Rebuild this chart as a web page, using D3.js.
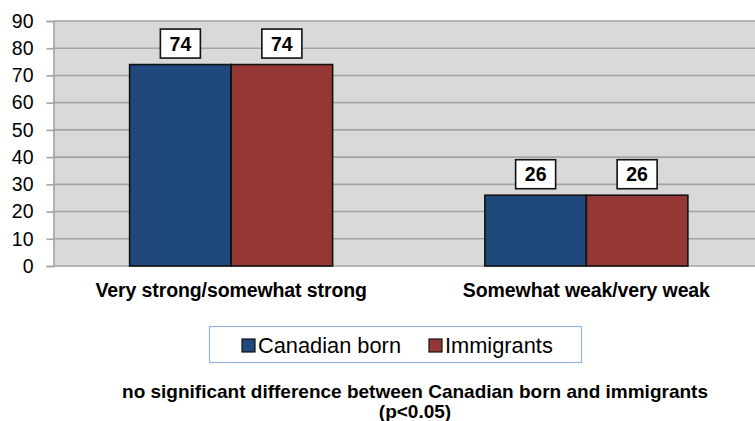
<!DOCTYPE html>
<html>
<head>
<meta charset="utf-8">
<script src="https://cdn.jsdelivr.net/npm/d3@7"></script>
<style>
  body { margin: 0; background: #fff; }
  svg text { font-family: "Liberation Sans", Arial, sans-serif; fill: #000; }
</style>
</head>
<body>
<div class="container"></div>
<script>
var categories = ['Very strong/somewhat strong', 'Somewhat weak/very weak'];
var seriesNames = ['Canadian born', 'Immigrants'];
var canadianBorn = [74, 26];
var immigrants = [74, 26];
var yTicks = [0, 10, 20, 30, 40, 50, 60, 70, 80, 90];
var footnote = ['no significant difference between Canadian born and immigrants', '(p<0.05)'];

const WIDTH = 755;
const HEIGHT = 421;
const colors = ['#1f487c', '#953735'];

var svg = d3.select('.container').append('svg')
  .attr('width', WIDTH)
  .attr('height', HEIGHT);

var plotLeft = 53.5, plotRight = 764, plotTop = 21, plotBottom = 266;

var x = d3.scaleBand()
  .domain(categories)
  .range([plotLeft, plotRight])
  .paddingInner(0.4286)
  .paddingOuter(0.2143);

var xInner = d3.scaleBand()
  .domain(seriesNames)
  .range([0, x.bandwidth()]);

var y = d3.scaleLinear()
  .domain([0, 90])
  .range([plotBottom, plotTop]);

// plot background
svg.append('rect')
  .attr('x', plotLeft)
  .attr('y', plotTop)
  .attr('width', plotRight - plotLeft)
  .attr('height', plotBottom - plotTop)
  .attr('fill', '#d9d9d9');

// gridlines
svg.append('g')
  .selectAll('line')
  .data(yTicks)
  .enter().append('line')
  .attr('x1', plotLeft)
  .attr('x2', plotRight)
  .attr('y1', function(d){ return y(d); })
  .attr('y2', function(d){ return y(d); })
  .attr('stroke', '#a3a3a3')
  .attr('stroke-width', 1.6);

// y axis
var yAxis = d3.axisLeft(y).tickValues(yTicks).tickSize(7).tickPadding(13);
var yg = svg.append('g')
  .attr('transform', 'translate(' + plotLeft + ',0)')
  .call(yAxis);
yg.select('.domain').attr('stroke', '#a3a3a3').attr('stroke-width', 1.6);
yg.selectAll('.tick line').attr('stroke', '#a3a3a3').attr('stroke-width', 1.6);
yg.selectAll('.tick text')
  .attr('font-size', 19.5)
  .attr('font-family', '"Liberation Sans", Arial, sans-serif')
  .attr('fill', '#000');

// bars
var rows = categories.map(function(c, i) {
  return { cat: c, values: [canadianBorn[i], immigrants[i]] };
});

var groups = svg.append('g')
  .selectAll('g')
  .data(rows)
  .enter().append('g')
  .attr('transform', function(d){ return 'translate(' + x(d.cat) + ',0)'; });

groups.selectAll('rect')
  .data(function(d){ return d.values.map(function(v, j){ return { name: seriesNames[j], value: v, idx: j }; }); })
  .enter().append('rect')
  .attr('x', function(d){ return xInner(d.name); })
  .attr('y', function(d){ return y(d.value); })
  .attr('width', xInner.bandwidth())
  .attr('height', function(d){ return y(0) - y(d.value); })
  .attr('fill', function(d){ return colors[d.idx]; })
  .attr('stroke', '#111')
  .attr('stroke-width', 1.6);

// data labels in boxes
var labels = groups.selectAll('g.lbl')
  .data(function(d){ return d.values.map(function(v, j){ return { name: seriesNames[j], value: v }; }); })
  .enter().append('g')
  .attr('class', 'lbl')
  .attr('transform', function(d){
    return 'translate(' + (xInner(d.name) + xInner.bandwidth() / 2) + ',' + (y(d.value) - 21) + ')';
  });

labels.append('rect')
  .attr('x', -20)
  .attr('y', -14.5)
  .attr('width', 40)
  .attr('height', 29)
  .attr('fill', '#fff')
  .attr('stroke', '#111')
  .attr('stroke-width', 1.6);

labels.append('text')
  .attr('text-anchor', 'middle')
  .attr('y', 7)
  .attr('font-size', 19.5)
  .attr('font-weight', 'bold')
  .text(function(d){ return d.value; });

// category labels
svg.append('g')
  .selectAll('text')
  .data(categories)
  .enter().append('text')
  .attr('x', function(d){ return x(d) + x.bandwidth() / 2; })
  .attr('y', 297)
  .attr('text-anchor', 'middle')
  .attr('font-size', 19.5)
  .attr('font-weight', 'bold')
  .attr('letter-spacing', -0.1)
  .text(function(d){ return d; });

// legend
var legend = svg.append('g');
legend.append('rect')
  .attr('x', 209.5)
  .attr('y', 326.5)
  .attr('width', 372)
  .attr('height', 36)
  .attr('fill', '#fff')
  .attr('stroke', '#95b3d7')
  .attr('stroke-width', 1.2);

var legendX = [242, 429];
var items = legend.selectAll('g.item')
  .data(seriesNames)
  .enter().append('g')
  .attr('class', 'item')
  .attr('transform', function(d, i){ return 'translate(' + legendX[i] + ',339)'; });

items.append('rect')
  .attr('width', 13)
  .attr('height', 13)
  .attr('fill', function(d, i){ return colors[i]; })
  .attr('stroke', '#111')
  .attr('stroke-width', 1.2);

items.append('text')
  .attr('x', 16)
  .attr('y', 14)
  .attr('font-size', 21.8)
  .text(function(d){ return d; });

// footnote
svg.append('g')
  .selectAll('text')
  .data(footnote)
  .enter().append('text')
  .attr('x', 415)
  .attr('y', function(d, i){ return 398 + i * 20; })
  .attr('text-anchor', 'middle')
  .attr('font-size', 19)
  .attr('font-weight', 'bold')
  .text(function(d){ return d; });
</script>
</body>
</html>
